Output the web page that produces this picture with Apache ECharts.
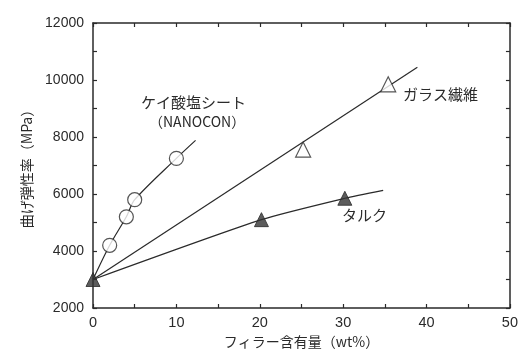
<!DOCTYPE html>
<html>
<head>
<meta charset="utf-8">
<script src="https://cdn.jsdelivr.net/npm/echarts@6/dist/echarts.min.js"></script>
<style>
  html, body { margin: 0; padding: 0; background: #fff; }
  #chart { width: 521px; height: 354px; }
</style>
</head>
<body>
<div id="chart"></div>
<script>
// ケイ酸塩シート (NANOCON) の測定点と曲線
const silicateX = [2, 4, 5, 10];
const silicateY = [4200, 5200, 5800, 7250];
const silicateCurveX = [0, 2, 4, 5, 10, 12.3];
const silicateCurveY = [3000, 4200, 5200, 5800, 7250, 7880];
// ガラス繊維
const glassX = [25.2, 35.4];
const glassY = [7560, 9850];
const glassFitX = [0, 38.9];
const glassFitY = [3000, 10450];
// タルク
const talcX = [0, 20.2, 30.2];
const talcY = [3000, 5100, 5850];
const talcCurveX = [0, 20.2, 30.2, 34.8];
const talcCurveY = [3000, 5100, 5850, 6130];

const pair = (xs, ys) => xs.map((x, i) => [x, ys[i]]);

const font = 'Liberation Sans, Arial, sans-serif';
const jpFont = '"Noto Sans CJK JP", sans-serif';
const ink = '#2a2a2a';

let myChart = echarts.init(document.getElementById('chart'));

const lineStyle = { color: ink, width: 1.2 };
const axisBase = {
  min: 0,
  max: 50,
  interval: 5,
  axisLine: { show: true, onZero: false, lineStyle: { color: ink, width: 1.5 } },
  axisTick: { show: true, inside: true, length: 4, lineStyle: { color: ink, width: 1.2 } },
  splitLine: { show: false }
};

const option = {
  backgroundColor: '#fff',
  animation: false,
  grid: { left: 93, right: 8, top: 23, bottom: 46 },
  xAxis: [
    Object.assign({}, axisBase, {
      type: 'value',
      position: 'bottom',
      name: 'フィラー含有量（wt%）',
      nameLocation: 'middle',
      nameGap: 27,
      nameTextStyle: { fontFamily: jpFont, fontSize: 14, color: ink },
      axisLabel: {
        color: ink, fontFamily: font, fontSize: 14.5, margin: 7,
        formatter: v => (v % 10 === 0 ? String(v) : '')
      }
    }),
    Object.assign({}, axisBase, {
      type: 'value',
      position: 'top',
      axisLabel: { show: false }
    })
  ],
  yAxis: [
    {
      type: 'value',
      min: 2000,
      max: 12000,
      interval: 1000,
      position: 'left',
      name: '曲げ弾性率（MPa）',
      nameLocation: 'middle',
      nameRotate: 90,
      nameGap: 57,
      nameTextStyle: { fontFamily: jpFont, fontSize: 14, color: ink },
      axisLine: { show: true, onZero: false, lineStyle: { color: ink, width: 1.5 } },
      axisTick: { show: true, inside: true, length: 4, lineStyle: { color: ink, width: 1.2 } },
      splitLine: { show: false },
      axisLabel: {
        color: ink, fontFamily: font, fontSize: 14, margin: 9,
        formatter: v => (v % 2000 === 0 ? String(v) : '')
      }
    },
    {
      type: 'value',
      min: 2000,
      max: 12000,
      interval: 1000,
      position: 'right',
      axisLine: { show: true, onZero: false, lineStyle: { color: ink, width: 1.5 } },
      axisTick: { show: true, inside: true, length: 4, lineStyle: { color: ink, width: 1.2 } },
      splitLine: { show: false },
      axisLabel: { show: false }
    }
  ],
  series: [
    {
      name: 'ケイ酸塩シート曲線',
      type: 'line',
      data: pair(silicateCurveX, silicateCurveY),
      smooth: 0.3,
      showSymbol: false,
      lineStyle: lineStyle,
      z: 2
    },
    {
      name: 'ガラス繊維直線',
      type: 'line',
      data: pair(glassFitX, glassFitY),
      showSymbol: false,
      lineStyle: lineStyle,
      z: 2
    },
    {
      name: 'タルク曲線',
      type: 'line',
      data: pair(talcCurveX, talcCurveY),
      smooth: 0.2,
      showSymbol: false,
      lineStyle: lineStyle,
      z: 2
    },
    {
      name: 'ケイ酸塩シート',
      type: 'scatter',
      data: pair(silicateX, silicateY),
      symbol: 'circle',
      symbolSize: 14,
      itemStyle: { color: '#fff', borderColor: ink, borderWidth: 1.2 },
      z: 3
    },
    {
      name: 'ガラス繊維',
      type: 'scatter',
      data: pair(glassX, glassY),
      symbol: 'triangle',
      symbolSize: 15,
      itemStyle: { color: '#fff', borderColor: ink, borderWidth: 1.2 },
      z: 3
    },
    {
      name: 'タルク',
      type: 'scatter',
      data: pair(talcX, talcY),
      symbol: 'triangle',
      symbolSize: 14,
      itemStyle: { color: '#333', borderColor: ink, borderWidth: 1 },
      z: 3
    }
  ],
  graphic: [
    { type: 'text', left: 141, top: 95, style: { text: 'ケイ酸塩シート', font: '15px ' + jpFont, fill: ink } },
    { type: 'text', left: 149, top: 115, style: { text: '（NANOCON）', font: '14px ' + jpFont, fill: ink } },
    { type: 'text', left: 403, top: 87, style: { text: 'ガラス繊維', font: '15px ' + jpFont, fill: ink } },
    { type: 'text', left: 342, top: 208, style: { text: 'タルク', font: '15px ' + jpFont, fill: ink } }
  ]
};
myChart.setOption(option);
window.onresize = myChart.resize;
</script>
</body>
</html>
